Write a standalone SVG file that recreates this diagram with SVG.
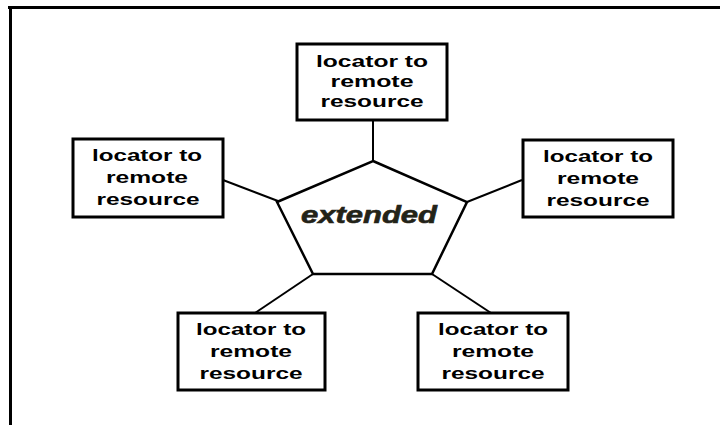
<svg xmlns="http://www.w3.org/2000/svg" width="720" height="427" viewBox="0 0 720 427">
<style>
.box{fill:#fff;stroke:#000;stroke-width:3}
.lbl{font-family:"Liberation Sans",Arial,sans-serif;font-size:16px;font-weight:bold;fill:#000;text-anchor:middle}
.con{stroke:#000;stroke-width:2;fill:none}
</style>
<rect width="720" height="427" fill="#fff"/>
<g id="frame">
<line x1="8" y1="7.5" x2="720" y2="7.5" stroke="#000" stroke-width="3"/>
<line x1="10.5" y1="6" x2="10.5" y2="425" stroke="#000" stroke-width="3"/>
</g>
<g id="connectors">
<line class="con" x1="373" y1="120" x2="373" y2="161" stroke-width="3"/>
<line class="con" x1="223" y1="180" x2="278" y2="201"/>
<line class="con" x1="522" y1="180" x2="467" y2="202"/>
<line class="con" x1="255" y1="313" x2="313" y2="274"/>
<line class="con" x1="432" y1="274" x2="491" y2="313"/>
</g>
<g id="center">
<polygon points="373,161 467,202 432,274 313,274 277,202" fill="#fff" stroke="#000" stroke-width="2.5"/>
<text x="369" y="223" font-family="'Liberation Sans',Arial,sans-serif" font-size="23" font-weight="bold" font-style="italic" fill="#232318" stroke="#232318" stroke-width="0.6" text-anchor="middle" textLength="136" lengthAdjust="spacingAndGlyphs">extended</text>
</g>
<g id="top">
<rect class="box" x="297" y="44" width="150" height="76"/>
<text class="lbl" x="372" y="67" textLength="112" lengthAdjust="spacingAndGlyphs">locator to</text>
<text class="lbl" x="372" y="87" textLength="83" lengthAdjust="spacingAndGlyphs">remote</text>
<text class="lbl" x="372" y="107" textLength="103" lengthAdjust="spacingAndGlyphs">resource</text>
</g>
<g id="left">
<rect class="box" x="73" y="139" width="150" height="78"/>
<text class="lbl" x="147" y="161" textLength="110" lengthAdjust="spacingAndGlyphs">locator to</text>
<text class="lbl" x="147" y="183" textLength="82" lengthAdjust="spacingAndGlyphs">remote</text>
<text class="lbl" x="148" y="205" textLength="103" lengthAdjust="spacingAndGlyphs">resource</text>
</g>
<g id="right">
<rect class="box" x="523" y="140" width="150" height="77"/>
<text class="lbl" x="598" y="162" textLength="110" lengthAdjust="spacingAndGlyphs">locator to</text>
<text class="lbl" x="598" y="184" textLength="82" lengthAdjust="spacingAndGlyphs">remote</text>
<text class="lbl" x="598" y="206" textLength="103" lengthAdjust="spacingAndGlyphs">resource</text>
</g>
<g id="bottom-left">
<rect class="box" x="178" y="313" width="147" height="77"/>
<text class="lbl" x="251" y="335" textLength="110" lengthAdjust="spacingAndGlyphs">locator to</text>
<text class="lbl" x="251" y="357" textLength="82" lengthAdjust="spacingAndGlyphs">remote</text>
<text class="lbl" x="251" y="379" textLength="103" lengthAdjust="spacingAndGlyphs">resource</text>
</g>
<g id="bottom-right">
<rect class="box" x="418" y="313" width="150" height="77"/>
<text class="lbl" x="493" y="335" textLength="110" lengthAdjust="spacingAndGlyphs">locator to</text>
<text class="lbl" x="493" y="357" textLength="82" lengthAdjust="spacingAndGlyphs">remote</text>
<text class="lbl" x="493" y="379" textLength="103" lengthAdjust="spacingAndGlyphs">resource</text>
</g>
</svg>
